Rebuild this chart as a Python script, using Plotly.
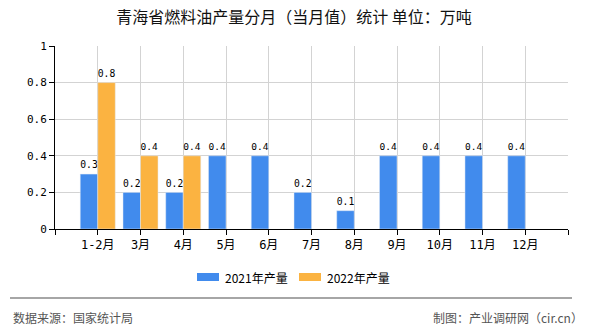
import plotly.graph_objects as go

categories = ["1-2月", "3月", "4月", "5月", "6月", "7月", "8月", "9月", "10月", "11月", "12月"]
values_2021 = [0.3, 0.2, 0.2, 0.4, 0.4, 0.2, 0.1, 0.4, 0.4, 0.4, 0.4]
values_2022 = [0.8, 0.4, 0.4, None, None, None, None, None, None, None, None]
series_names = ["2021年产量", "2022年产量"]
series_colors = ["#418bed", "#fbb341"]
y_ticks = [0, 0.2, 0.4, 0.6, 0.8, 1]
y_ticktext = ["0", "0.2", "0.4", "0.6", "0.8", "1"]

xpos = list(range(1, len(categories) + 1))
num_font = "'DejaVu Sans Mono', 'Noto Sans CJK SC', monospace"
cjk_font = "'Noto Sans CJK SC', sans-serif"

L, R, T, B = 55, 568, 46, 229
W, H = R - L, B - T

def px(x):
    return (x - L) / W

def py(y):
    return (B - y) / H

def labels(vals):
    return [("" if v is None else f"{v:g}") for v in vals]

fig = go.Figure()
for name, vals, col in zip(series_names, [values_2021, values_2022], series_colors):
    fig.add_trace(go.Bar(x=xpos, y=vals, name=name, marker_color=col,
                         text=labels(vals), textposition="outside",
                         textfont=dict(family=num_font, size=11, color="#000"),
                         cliponaxis=False, showlegend=False))

fig.update_layout(
    width=590, height=330,
    margin=dict(l=L, r=590 - R, t=T, b=330 - B),
    paper_bgcolor="white", plot_bgcolor="white",
    barmode="group", bargap=0.18, bargroupgap=0,
    font=dict(family=cjk_font, size=12, color="#000"),
    title=dict(text="青海省燃料油产量分月（当月值）统计 单位：万吨", x=294 / 590, xanchor="center",
               y=1 - 17 / 330, yanchor="middle", font=dict(family=cjk_font, size=16, color="#111")),
    showlegend=False,
)
fig.update_xaxes(range=[0, len(categories) + 1], tickmode="array",
                 tickvals=list(range(0, len(categories) + 2)),
                 ticktext=[""] + categories + [""],
                 showgrid=True, gridcolor="#d3d3d3", gridwidth=1,
                 showline=True, linecolor="#000", linewidth=1,
                 ticks="outside", ticklen=5, tickcolor="#000",
                 tickfont=dict(family=num_font, size=12, color="#000"), zeroline=False)
fig.update_yaxes(range=[0, 1], tickmode="array", tickvals=y_ticks, ticktext=y_ticktext,
                 showgrid=True, gridcolor="#d3d3d3", gridwidth=1,
                 showline=True, linecolor="#000", linewidth=1,
                 ticks="outside", ticklen=5, tickcolor="#000",
                 tickfont=dict(family=num_font, size=11, color="#000"), zeroline=False)

# custom legend
legend_x = [197, 299]
for lx, name, col in zip(legend_x, series_names, series_colors):
    fig.add_shape(type="rect", xref="paper", yref="paper",
                  x0=px(lx), x1=px(lx + 22), y0=py(281), y1=py(273),
                  fillcolor=col, line=dict(width=0))
    fig.add_annotation(text=name, xref="paper", yref="paper", x=px(lx + 26), xanchor="left",
                       y=py(277), yanchor="middle", showarrow=False,
                       font=dict(family=cjk_font, size=12, color="#000"))

fig.add_shape(type="line", xref="paper", yref="paper",
              x0=px(10), x1=px(572), y0=py(298), y1=py(298),
              line=dict(color="#888", width=1.5))
fig.add_annotation(text="数据来源：国家统计局", xref="paper", yref="paper",
                   x=px(11), xanchor="left", y=py(317), yanchor="middle",
                   showarrow=False, font=dict(family=cjk_font, size=12, color="#555"))
fig.add_annotation(text="制图：产业调研网（cir.cn）", xref="paper", yref="paper",
                   x=px(585), xanchor="right", y=py(317), yanchor="middle",
                   showarrow=False, font=dict(family=cjk_font, size=12, color="#555"))

fig.write_html("out.html")
